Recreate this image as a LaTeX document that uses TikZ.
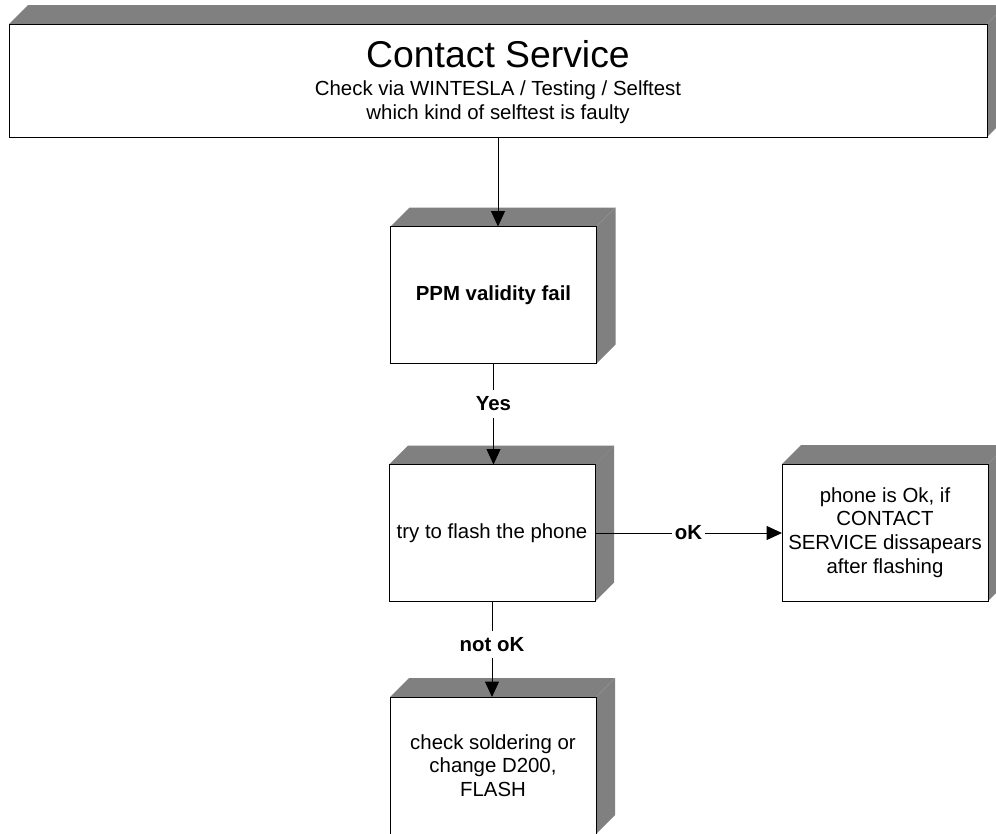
\documentclass[tikz,border=0pt]{standalone}
\usepackage{fontspec}
\setmainfont{Liberation Sans}
\usetikzlibrary{arrows.meta,calc,backgrounds}
\definecolor{facegray}{RGB}{128,128,128}
\begin{document}
\begin{tikzpicture}[x=0.75pt,y=-0.75pt,
  block/.style={draw=black,line width=0.75pt,fill=white,minimum width=154.5pt,minimum height=102.75pt,inner sep=0pt,outer sep=0pt,align=center,font=\fontsize{15.3pt}{17.8pt}\selectfont},
  face/.style={fill=facegray,draw=none},
  lbl/.style={fill=white,inner xsep=2pt,inner ysep=5pt,font=\fontsize{15.3pt}{17.8pt}\selectfont\bfseries},
  txt/.style={anchor=base,inner sep=0pt,font=\fontsize{15.3pt}{17.8pt}\selectfont},
  arr/.style={line width=0.75pt,-{Triangle[length=11.6pt,width=10.5pt]}}]
\useasboundingbox (0,0) rectangle (996,833);
\clip (0,0) rectangle (996,833);
% boxes
\node[block,minimum width=733.5pt,minimum height=84.75pt] (top) at (498,80.5) {};
\node[block] (ppm) at (493.5,295) {\bfseries PPM validity fail};
\node[block] (flash) at (492,533) {try to flash the phone};
\node[block] (phone) at (885,532.5) {phone is Ok, if\\CONTACT\\SERVICE dissapears\\after flashing};
\node[block] (check) at (493,765.5) {check soldering or\\change D200,\\FLASH};
% top box texts
\node[txt,font=\fontsize{28pt}{30pt}\selectfont] (title) at (498,67) {Contact Service};
\node[txt] (sub1) at (498,95) {Check via WINTESLA / Testing / Selftest};
\node[txt] (sub2) at (498,119) {which kind of selftest is faulty};
% 3D faces
\begin{pgfonlayer}{background}
\foreach \n in {top,ppm,flash,phone,check}{
  \path[face] (\n.north west) -- ++(19,-19) -- ($(\n.north east)+(19,-19)$) -- (\n.north east) -- cycle;
  \path[face] (\n.north east) -- ++(19,-19) -- ($(\n.south east)+(19,-19)$) -- (\n.south east) -- cycle;
}
\end{pgfonlayer}
% connectors
\draw[arr] (top.south) -- (top.south |- ppm.north);
\draw[arr] (ppm.south) -- node[lbl,pos=0.4] (yes) {Yes} (ppm.south |- flash.north);
\draw[arr] (flash.south) -- node[lbl,pos=0.45] (notok) {not oK} (flash.south |- check.north);
\draw[arr] (flash.east) -- node[lbl] (ok) {oK} (flash.east -| phone.west);
\end{tikzpicture}
\end{document}
